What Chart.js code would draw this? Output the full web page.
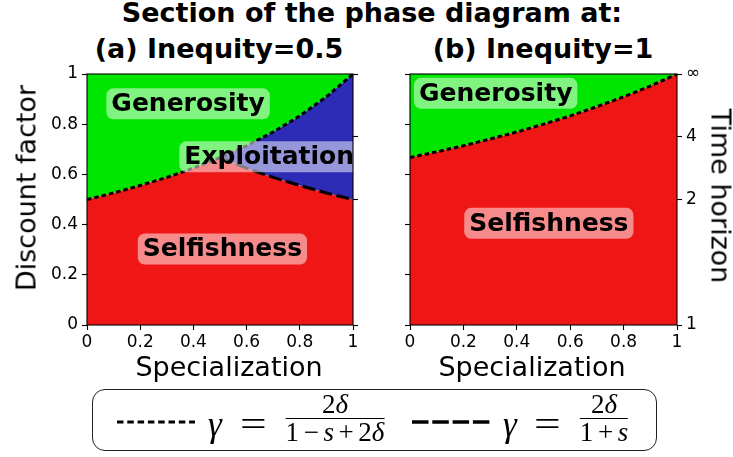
<!DOCTYPE html>
<html>
<head>
<meta charset="utf-8">
<script src="https://cdn.jsdelivr.net/npm/chart.js@4.4.1/dist/chart.umd.min.js"></script>
<style>
  body { margin: 0; width: 733px; height: 457px; background: #fff; position: relative; overflow: hidden;
         font-family: "DejaVu Sans", sans-serif; color: #000; }
  .abs { position: absolute; white-space: nowrap; line-height: 1; }
  .bold { font-weight: bold; font-size: 27px; transform: translateX(-50%); }
  .axis { font-size: 27px; transform: translate(-50%, -50%); }
  canvas { position: absolute; top: 0; }
  #legend { position: absolute; left: 92px; top: 389px; width: 565px; height: 62px; box-sizing: border-box;
            border: 1.5px solid #222; border-radius: 13px; }
  .math { position: absolute; font-family: "Liberation Serif", serif; line-height: 1; white-space: nowrap; }
  .eq { display: inline-block; transform: scaleX(1.35); transform-origin: left center; }
  .frac { position: absolute; display: flex; flex-direction: column; align-items: center;
          transform: translateX(-50%); font-family: "Liberation Serif", serif; font-size: 27px; line-height: 1; }
  .frac .bar { align-self: stretch; border-top: 1.2px solid #000; }
  .frac .op { margin: 0 0.17em; }
</style>
</head>
<body>
<div class="abs bold" style="left:372px; top:-1px;">Section of the phase diagram at:</div>
<div class="abs bold" style="left:219px; top:35px;">(a) Inequity=0.5</div>
<div class="abs bold" style="left:543px; top:35px;">(b) Inequity=1</div>

<canvas id="chartA" width="370" height="390" style="left:0px"></canvas>
<canvas id="chartB" width="363" height="390" style="left:370px"></canvas>

<div class="abs axis" style="left:26px; top:188px; transform: translate(-50%, -50%) rotate(-90deg);">Discount factor</div>
<div class="abs axis" style="left:721px; top:196px; transform: translate(-50%, -50%) rotate(90deg);">Time horizon</div>
<div class="abs axis" style="left:229px; top:366px;">Specialization</div>
<div class="abs axis" style="left:532px; top:366px;">Specialization</div>

<div id="legend"></div>
<svg style="position:absolute; left:117px; top:419px" width="78" height="6">
  <line x1="0" y1="3" x2="78" y2="3" stroke="#000" stroke-width="3" stroke-dasharray="6.5 3.8"/>
</svg>
<span class="math" style="left:208px; top:407px; font-size:35px; font-style:italic;">γ</span>
<span class="math" style="left:240px; top:407px; font-size:35px;"><span class="eq">=</span></span>
<div class="frac" style="left:335px; top:391px;"><span>2<i>δ</i></span><span class="bar"></span><span>1<span class="op">−</span><i>s</i><span class="op">+</span>2<i>δ</i></span></div>
<svg style="position:absolute; left:412px; top:418px" width="78" height="8">
  <line x1="0" y1="4" x2="78" y2="4" stroke="#000" stroke-width="3.3" stroke-dasharray="16.5 3.8"/>
</svg>
<span class="math" style="left:503px; top:407px; font-size:35px; font-style:italic;">γ</span>
<span class="math" style="left:534px; top:407px; font-size:35px;"><span class="eq">=</span></span>
<div class="frac" style="left:604px; top:391px;"><span>2<i>δ</i></span><span class="bar"></span><span>1<span class="op">+</span><i>s</i></span></div>

<script>
// specialization s on the x axis
const specialization = [0, 0.1, 0.2, 0.3, 0.4, 0.5, 0.6, 0.7, 0.8, 0.9, 1];

// (a) inequity 0.5 : boundaries
const dottedA = [0.5, 0.526, 0.556, 0.588, 0.625, 0.667, 0.714, 0.769, 0.833, 0.909, 1];
const dashedA = [1, 0.909, 0.833, 0.769, 0.714, 0.667, 0.625, 0.588, 0.556, 0.526, 0.5];
const selfishTopA = [0.5, 0.526, 0.556, 0.588, 0.625, 0.667, 0.625, 0.588, 0.556, 0.526, 0.5];

// (b) inequity 1
const dottedB = [0.667, 0.69, 0.714, 0.741, 0.769, 0.8, 0.833, 0.87, 0.909, 0.952, 1];

// ticks
const xTicks = [0, 0.2, 0.4, 0.6, 0.8, 1];
const xTickLabels = ['0', '0.2', '0.4', '0.6', '0.8', '1'];
const yTicks = [0, 0.2, 0.4, 0.6, 0.8, 1];
const yTickLabels = ['0', '0.2', '0.4', '0.6', '0.8', '1'];
const horizonTicks = [0, 0.5, 0.75, 1];
const horizonTickLabels = ['1', '2', '4', '∞'];

const labelsA = [
  { text: 'Generosity', s: 0.38, g: 0.881 },
  { text: 'Exploitation', s: 0.685, g: 0.67 },
  { text: 'Selfishness', s: 0.509, g: 0.303 }
];
const labelsB = [
  { text: 'Generosity', s: 0.321, g: 0.923 },
  { text: 'Selfishness', s: 0.52, g: 0.405 }
];

const RED = 'rgb(239,22,22)';
const GREEN = 'rgb(0,230,0)';
const BLUE = 'rgb(44,44,182)';

Chart.defaults.font.family = "'DejaVu Sans', sans-serif";
Chart.defaults.font.size = 17;
Chart.defaults.color = '#000';

function pts(ys, from) {
  const out = [];
  specialization.forEach((s, i) => { if (from === undefined || s >= from) out.push({ x: s, y: ys[i] }); });
  return out;
}

function axis(position, ticks, labels, size, opts) {
  return Object.assign({
    type: 'linear', position: position, min: 0, max: 1,
    afterBuildTicks: sc => { sc.ticks = ticks.map(v => ({ value: v })); },
    afterFit: sc => { if (sc.isHorizontal()) sc.height = size; else sc.width = size; },
    ticks: { callback: (v, i) => labels ? labels[i] : '', padding: 4, font: { size: 17 } },
    grid: { drawOnChartArea: false, drawTicks: true, tickLength: 5, tickWidth: 1.1, tickColor: '#000' },
    border: { display: false }
  }, opts || {});
}

function regionPlugin(labels) {
  return {
    id: 'regions',
    afterDatasetsDraw(chart) {
      const { ctx, chartArea: a, scales } = chart;
      ctx.save();
      ctx.beginPath();
      ctx.rect(a.left, a.top, a.width, a.height);
      ctx.clip();
      ctx.font = "bold 25px 'DejaVu Sans'";
      ctx.textAlign = 'center';
      ctx.textBaseline = 'middle';
      labels.forEach(l => {
        const x = scales.x.getPixelForValue(l.s);
        const y = scales.y.getPixelForValue(l.g);
        const w = ctx.measureText(l.text).width + 10, h = 31;
        ctx.fillStyle = 'rgba(255,255,255,0.5)';
        ctx.beginPath();
        ctx.roundRect(x - w / 2, y - h / 2, w, h, 7);
        ctx.fill();
        ctx.fillStyle = '#000';
        ctx.fillText(l.text, x, y + 1);
      });
      ctx.restore();
      // axes frame
      ctx.save();
      ctx.strokeStyle = '#000';
      ctx.lineWidth = 1.1;
      ctx.strokeRect(a.left, a.top, a.width, a.height);
      ctx.restore();
    }
  };
}

const common = {
  responsive: false,
  animation: false,
  events: [],
  plugins: { legend: { display: false }, tooltip: { enabled: false }, filler: { drawTime: 'beforeDatasetsDraw' } },
  elements: { point: { radius: 0 }, line: { tension: 0 } }
};

// panel (a)
new Chart(document.getElementById('chartA'), {
  type: 'line',
  data: {
    datasets: [
      { data: pts(selfishTopA), fill: 'origin', backgroundColor: RED, borderWidth: 0 },
      { data: pts(dottedA), fill: '-1', backgroundColor: BLUE, borderColor: '#000', borderWidth: 3, borderDash: [4.5, 3] },
      { data: pts(dottedA), fill: 'end', backgroundColor: GREEN, borderWidth: 0 },
      { data: pts(dashedA, 0.5), fill: false, borderColor: '#000', borderWidth: 3, borderDash: [13, 4.5] }
    ]
  },
  options: Object.assign({}, common, {
    layout: { padding: { top: 74, bottom: 35, left: 0, right: 0 } },
    scales: {
      x: axis('bottom', xTicks, xTickLabels, 30, { ticks: { callback: (v, i) => xTickLabels[i], padding: 2 } }),
      y: axis('left', yTicks, yTickLabels, 87),
      y2: axis('right', horizonTicks, null, 17)
    }
  }),
  plugins: [regionPlugin(labelsA)]
});

// panel (b)
new Chart(document.getElementById('chartB'), {
  type: 'line',
  data: {
    datasets: [
      { data: pts(dottedB), fill: 'origin', backgroundColor: RED, borderColor: '#000', borderWidth: 3, borderDash: [4.5, 3] },
      { data: pts(dottedB), fill: 'end', backgroundColor: GREEN, borderWidth: 0 }
    ]
  },
  options: Object.assign({}, common, {
    layout: { padding: { top: 74, bottom: 35, left: 0, right: 0 } },
    scales: {
      x: axis('bottom', xTicks, xTickLabels, 30, { ticks: { callback: (v, i) => xTickLabels[i], padding: 2 } }),
      y: axis('left', yTicks, null, 40),
      y2: axis('right', horizonTicks, horizonTickLabels, 56)
    }
  }),
  plugins: [regionPlugin(labelsB)]
});
</script>
</body>
</html>
